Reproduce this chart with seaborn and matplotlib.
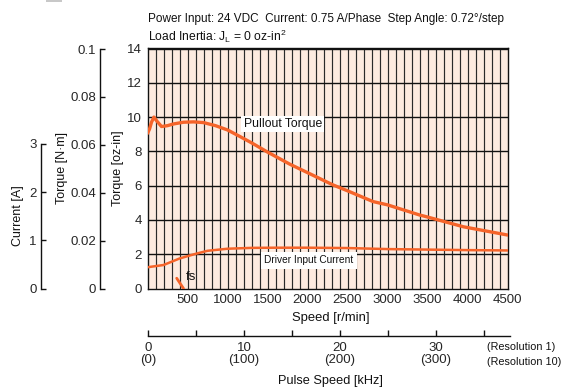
import numpy as np
import pandas as pd
import seaborn as sns
import matplotlib.pyplot as plt
from matplotlib import font_manager
from matplotlib.patches import Rectangle

# speed curves
speed_pullout = [0, 25, 50, 80, 120, 175, 250, 325, 450, 575, 700, 850, 1000, 1150,
                 1300, 1500, 1780, 2000, 2320, 2500, 2820, 3000, 3400, 3500, 3950, 4500]
torque_pullout = [9.05, 9.3, 9.7, 10.0, 9.75, 9.45, 9.5, 9.6, 9.7, 9.72, 9.68, 9.5, 9.25, 8.88,
                  8.5, 7.96, 7.25, 6.76, 6.04, 5.7, 5.07, 4.88, 4.29, 4.17, 3.6, 3.12]

speed_current = [0, 200, 400, 600, 750, 1000, 1300, 1600, 2000, 2500, 3000, 3500, 4000, 4500]
torque_current = [1.24, 1.37, 1.75, 2.02, 2.2, 2.32, 2.37, 2.38, 2.38, 2.36, 2.3, 2.27, 2.24, 2.22]

speed_fs = [365, 450]
torque_fs = [0.6, 0.0]

speed_ticks = [500, 1000, 1500, 2000, 2500, 3000, 3500, 4000, 4500]
pulse_ticks = [0, 10, 20, 30]
pulse_labels = ['0\n(0)', '10\n(100)', '20\n(200)', '30\n(300)']

sns.set_style('white')
names = {f.name for f in font_manager.fontManager.ttflist}
fam = 'Liberation Sans Narrow' if 'Liberation Sans Narrow' in names else 'Liberation Sans'
plt.rcParams['font.family'] = [fam, 'DejaVu Sans']
plt.rcParams['mathtext.fontset'] = 'custom'
plt.rcParams['mathtext.rm'] = fam
plt.rcParams['text.color'] = '#111111'

W, H = 561, 387
fig = plt.figure(figsize=(W / 100, H / 100), dpi=100)


def box(x0, y_top, x1, y_bot):
    return [x0 / W, 1 - y_bot / H, (x1 - x0) / W, (y_bot - y_top) / H]


orange = '#f5642a'
fs = 9.5

# main chart
ax = fig.add_axes(box(147.5, 47.5, 507.5, 288.5))
ax.set_facecolor('#fdebe0')
ax.set_xlim(0, 4500)
ax.set_ylim(0, 14.06)
for s in np.arange(100, 4500, 100):
    ax.axvline(s, color='#2a2a2a', lw=0.85, zorder=1)
for t in range(2, 15, 2):
    ax.axhline(t, color='#111111', lw=1.0, zorder=1)

pull = pd.DataFrame({'speed': speed_pullout, 'torque': torque_pullout})
cur = pd.DataFrame({'speed': speed_current, 'torque': torque_current})
sns.lineplot(data=pull, x='speed', y='torque', ax=ax, color=orange, lw=2.4, zorder=3)
sns.lineplot(data=cur, x='speed', y='torque', ax=ax, color=orange, lw=1.8, zorder=3)
sns.lineplot(x=speed_fs, y=torque_fs, ax=ax, color=orange, lw=2.0, zorder=3)

ax.set_xticks(speed_ticks)
ax.set_xticklabels([str(v) for v in speed_ticks], fontsize=fs)
ax.set_yticks(range(0, 15, 2))
ax.set_yticklabels([str(v) for v in range(0, 15, 2)], fontsize=fs)
ax.tick_params(length=0, pad=4)
ax.set_xlabel('')
ax.set_ylabel('')
for sp in ax.spines.values():
    sp.set_color('#111111')
    sp.set_linewidth(1.0)

ax.text(1200, 9.6, 'Pullout Torque', fontsize=8.8, va='center', ha='left', zorder=4,
        bbox=dict(facecolor='white', edgecolor='none', pad=1.5))
ax.text(1460, 1.65, 'Driver Input Current', fontsize=7.3, va='center', ha='left', zorder=4,
        bbox=dict(facecolor='white', edgecolor='none', pad=2.5))
ax.text(480, 0.65, 'fs', fontsize=fs, va='center', ha='left', zorder=4)

fig.text(331 / W, 1 - 318 / H, 'Speed [r/min]', fontsize=9.4, ha='center', va='center')

# torque in N·m
ax_nm = fig.add_axes(box(100, 47.5, 104, 288.5))
ax_nm.set_ylim(0, 0.1 * 241 / 239.5)
ax_nm.spines['left'].set_bounds(0, 0.1)
ax_nm.set_yticks([0, 0.02, 0.04, 0.06, 0.08, 0.1])
ax_nm.set_yticklabels(['0', '0.02', '0.04', '0.06', '0.08', '0.1'], fontsize=fs)

# current in A
ax_a = fig.add_axes(box(41, 47.5, 45, 288.5))
ax_a.set_ylim(0, 5)
ax_a.spines['left'].set_bounds(0, 3)
ax_a.set_yticks([0, 1, 2, 3])
ax_a.set_yticklabels(['0', '1', '2', '3'], fontsize=fs)

for a in (ax_nm, ax_a):
    a.patch.set_visible(False)
    for k in ('right', 'top', 'bottom'):
        a.spines[k].set_visible(False)
    a.spines['left'].set_color('#111111')
    a.spines['left'].set_linewidth(1.0)
    a.set_xticks([])
    a.tick_params(axis='y', direction='in', length=3.5, width=1.0, pad=3, color='#111111', left=True)

fig.text(17.5 / W, 1 - 216 / H, 'Current [A]', rotation=90, fontsize=9, ha='center', va='center')
fig.text(62 / W, 1 - 168 / H, 'Torque [N·m]', rotation=90, fontsize=9, ha='center', va='center')
fig.text(118 / W, 1 - 168 / H, 'Torque [oz-in]', rotation=90, fontsize=9, ha='center', va='center')

# pulse speed axis
ax_p = fig.add_axes(box(148, 330, 510, 336))
ax_p.patch.set_visible(False)
ax_p.set_xlim(0, 362 / 9.6)
ax_p.set_ylim(0, 1)
for k in ('left', 'right', 'top'):
    ax_p.spines[k].set_visible(False)
ax_p.spines['bottom'].set_color('#111111')
ax_p.spines['bottom'].set_linewidth(1.0)
ax_p.set_yticks([])
ax_p.set_xticks(pulse_ticks)
ax_p.set_xticklabels(pulse_labels, fontsize=fs, linespacing=1.0)
ax_p.set_xticks([5, 15, 25, 35], minor=True)
ax_p.tick_params(axis='x', which='both', direction='in', length=4, width=1.0, pad=4,
                 color='#111111', bottom=True)

fig.text(487 / W, 1 - 347 / H, '(Resolution 1)', fontsize=7.8, ha='left', va='center')
fig.text(487 / W, 1 - 362 / H, '(Resolution 10)', fontsize=7.8, ha='left', va='center')
fig.text(330 / W, 1 - 381 / H, 'Pulse Speed [kHz]', fontsize=9.2, ha='center', va='center')

# header
fig.text(148 / W, 1 - 19 / H, 'Power Input: 24 VDC  Current: 0.75 A/Phase  Step Angle: 0.72°/step',
         fontsize=8.5, ha='left', va='center')
fig.text(148 / W, 1 - 36 / H, r'Load Inertia: J$_{\mathrm{L}}$ = 0 oz-in$^{2}$',
         fontsize=8.7, ha='left', va='center')

fig.patches.append(Rectangle((46 / W, 1 - 2 / H), 16 / W, 2 / H, transform=fig.transFigure,
                             facecolor='#c8c8c8', edgecolor='none'))

fig.savefig('out.png', dpi=100)
